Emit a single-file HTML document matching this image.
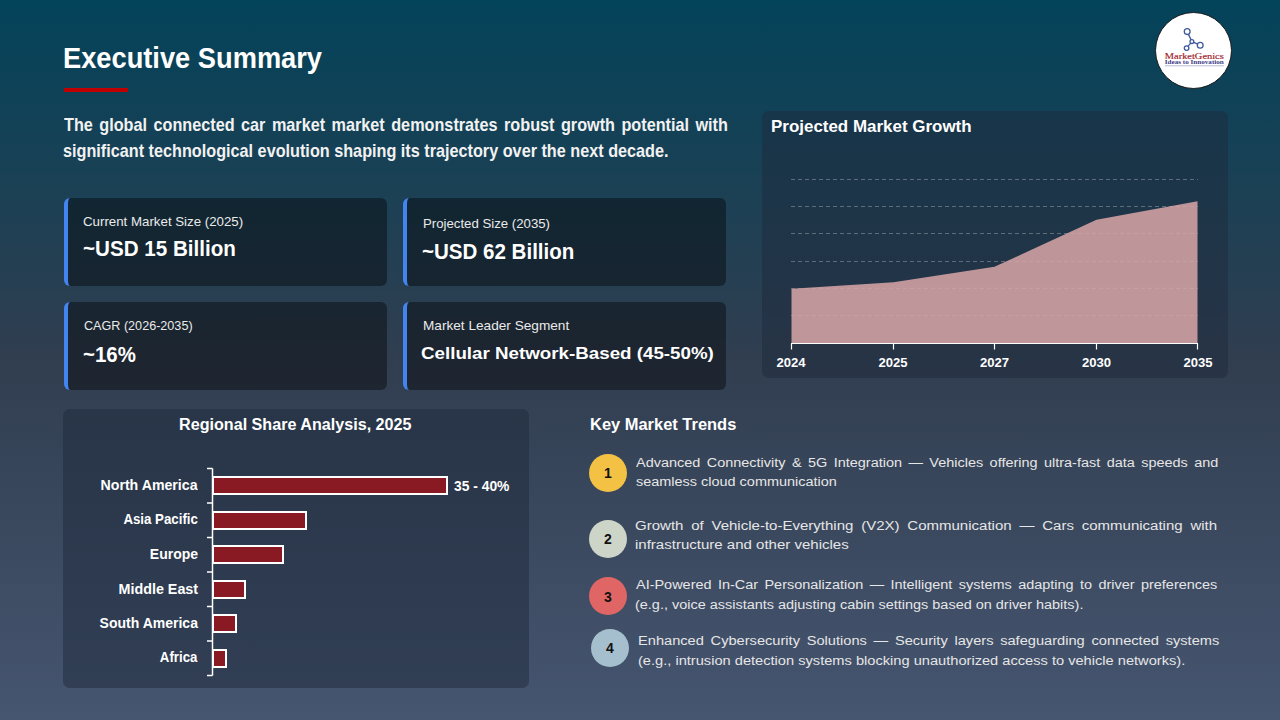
<!DOCTYPE html>
<html><head><meta charset="utf-8"><style>
html,body{margin:0;padding:0;}
body{width:1280px;height:720px;overflow:hidden;position:relative;background:linear-gradient(180deg,#03435a 0%,#313e50 50%,#465570 100%);font-family:'Liberation Sans',sans-serif;}
.t{position:absolute;white-space:nowrap;line-height:1;font-weight:bold;}
.card{position:absolute;width:319px;height:88px;background:rgba(0,0,0,0.4);border-left:4px solid #4285f0;border-radius:6px;}
.panel{position:absolute;background:rgba(30,41,59,0.5);border-radius:7px;}
.circ{position:absolute;width:38px;height:38px;border-radius:50%;}
.num{position:absolute;width:20px;text-align:center;font-size:14px;font-weight:bold;color:#111;line-height:1;}
svg{position:absolute;left:0;top:0;}
</style></head><body>
<div style="position:absolute;left:64px;top:88px;width:64px;height:4px;background:#c00000"></div>
<div class="card" style="left:64px;top:198px"></div>
<div class="card" style="left:403px;top:198px"></div>
<div class="card" style="left:64px;top:302px"></div>
<div class="card" style="left:403px;top:302px"></div>
<div class="panel" style="left:762px;top:111px;width:466px;height:267px"></div>
<div class="panel" style="left:63px;top:409px;width:466px;height:279px"></div>
<svg width="1280" height="720" viewBox="0 0 1280 720">
<g stroke="rgba(255,255,255,0.28)" stroke-width="1" stroke-dasharray="4 3"><line x1="791" x2="1198" y1="315.5" y2="315.5"/><line x1="791" x2="1198" y1="288.5" y2="288.5"/><line x1="791" x2="1198" y1="261.5" y2="261.5"/><line x1="791" x2="1198" y1="233.5" y2="233.5"/><line x1="791" x2="1198" y1="206.5" y2="206.5"/><line x1="791" x2="1198" y1="179.5" y2="179.5"/></g>
<polygon points="791.5,343.5 791.5,288.8 893.5,282.3 994.5,266.8 1096.5,219.8 1197.5,201.2 1197.5,343.5" fill="rgba(216,166,168,0.86)"/>
<line x1="791" x2="1198" y1="343.5" y2="343.5" stroke="#ffffff" stroke-width="1.2"/>
<g stroke="#ffffff" stroke-width="1.2"><line x1="791.5" x2="791.5" y1="343.5" y2="349.5"/><line x1="893.5" x2="893.5" y1="343.5" y2="349.5"/><line x1="994.5" x2="994.5" y1="343.5" y2="349.5"/><line x1="1096.5" x2="1096.5" y1="343.5" y2="349.5"/><line x1="1197.5" x2="1197.5" y1="343.5" y2="349.5"/></g>
<rect x="213" y="477" width="234" height="17" fill="#891a24" stroke="#ffffff" stroke-width="2"/><rect x="213" y="512" width="93" height="17" fill="#891a24" stroke="#ffffff" stroke-width="2"/><rect x="213" y="546" width="70" height="17" fill="#891a24" stroke="#ffffff" stroke-width="2"/><rect x="213" y="581" width="32" height="17" fill="#891a24" stroke="#ffffff" stroke-width="2"/><rect x="213" y="615" width="23" height="17" fill="#891a24" stroke="#ffffff" stroke-width="2"/><rect x="213" y="650" width="13" height="17" fill="#891a24" stroke="#ffffff" stroke-width="2"/>
<line x1="212.5" x2="212.5" y1="468.5" y2="675.5" stroke="#ffffff" stroke-width="1.5"/>
<g stroke="#ffffff" stroke-width="1.5"><line x1="207" x2="212.5" y1="468.50" y2="468.50"/><line x1="207" x2="212.5" y1="503.00" y2="503.00"/><line x1="207" x2="212.5" y1="537.50" y2="537.50"/><line x1="207" x2="212.5" y1="572.00" y2="572.00"/><line x1="207" x2="212.5" y1="606.50" y2="606.50"/><line x1="207" x2="212.5" y1="641.00" y2="641.00"/><line x1="207" x2="212.5" y1="675.50" y2="675.50"/></g>
</svg>
<div class="circ" style="left:589.00px;top:453.50px;background:#f3c143"></div><div class="circ" style="left:589.00px;top:519.50px;background:#ccd5c8"></div><div class="circ" style="left:589.00px;top:577.25px;background:#e06666"></div><div class="circ" style="left:591.00px;top:628.50px;background:#a6bfcf"></div>
<div class="num" style="left:598.00px;top:466.15px">1</div><div class="num" style="left:598.00px;top:532.15px">2</div><div class="num" style="left:598.00px;top:589.90px">3</div><div class="num" style="left:600.00px;top:641.15px">4</div>
<!-- logo -->
<div style="position:absolute;left:1154.5px;top:11.5px;width:77px;height:77px;border-radius:50%;background:#ffffff;border:1px solid #1a1a1a;box-sizing:border-box"></div>
<svg width="1280" height="720" viewBox="0 0 1280 720">
<g stroke="#3d5a9e" stroke-width="1.3" fill="#ffffff">
<line x1="1187.2" y1="31.6" x2="1191.9" y2="41.6"/><line x1="1191.9" y1="41.6" x2="1200.2" y2="45.2"/><line x1="1191.9" y1="41.6" x2="1186.6" y2="48.1"/>
<circle cx="1187.2" cy="31.6" r="2.9"/><circle cx="1191.9" cy="41.6" r="1.9"/><circle cx="1200.2" cy="45.2" r="2.9"/><circle cx="1186.6" cy="48.1" r="2.3"/>
</g>
<text x="1164.8" y="58.5" font-family="Liberation Serif" font-size="7.8" fill="#a0222c" stroke="#a0222c" stroke-width="0.15" textLength="59" lengthAdjust="spacingAndGlyphs">MarketGenics</text>
<text x="1164.8" y="64.4" font-family="Liberation Serif" font-weight="bold" font-size="5.4" fill="#3c3a86" textLength="59" lengthAdjust="spacingAndGlyphs">Ideas to Innovation</text>
<line x1="1164.8" x2="1223.8" y1="65.8" y2="65.8" stroke="#8a8fb8" stroke-width="0.6"/>
</svg>
<div class="t" style="left:62.67px;top:43.00px;font-size:29.80px;color:#ffffff;transform-origin:0 0;transform:scaleX(0.9146);">Executive Summary</div>
<div class="t" style="left:63.50px;top:117.00px;font-size:17.73px;color:#f2f2f2;width:725.44px;text-align:justify;text-align-last:justify;transform-origin:0 0;transform:scaleX(0.9152);">The global connected car market market demonstrates robust growth potential with</div>
<div class="t" style="left:62.58px;top:143.00px;font-size:17.73px;color:#f2f2f2;transform-origin:0 0;transform:scaleX(0.9152);">significant technological evolution shaping its trajectory over the next decade.</div>
<div class="t" style="left:82.66px;top:216.00px;font-size:12.79px;color:#eaeaea;font-weight:normal;transform-origin:0 0;transform:scaleX(1.0392);">Current Market Size (2025)</div>
<div class="t" style="left:82.78px;top:238.00px;font-size:22.38px;color:#ffffff;transform-origin:0 0;transform:scaleX(0.9207);">~USD 15 Billion</div>
<div class="t" style="left:422.67px;top:218.00px;font-size:12.79px;color:#eaeaea;font-weight:normal;transform-origin:0 0;transform:scaleX(1.0331);">Projected Size (2035)</div>
<div class="t" style="left:421.78px;top:241.00px;font-size:22.38px;color:#ffffff;transform-origin:0 0;transform:scaleX(0.9177);">~USD 62 Billion</div>
<div class="t" style="left:83.61px;top:320.00px;font-size:12.79px;color:#eaeaea;font-weight:normal;transform-origin:0 0;transform:scaleX(0.9861);">CAGR (2026-2035)</div>
<div class="t" style="left:83.09px;top:344.00px;font-size:22.38px;color:#ffffff;transform-origin:0 0;transform:scaleX(0.9123);">~16%</div>
<div class="t" style="left:422.68px;top:320.00px;font-size:12.79px;color:#eaeaea;font-weight:normal;transform-origin:0 0;transform:scaleX(1.0662);">Market Leader Segment</div>
<div class="t" style="left:421.40px;top:345.00px;font-size:17.08px;color:#ffffff;width:266.70px;text-align:justify;text-align-last:justify;transform-origin:0 0;transform:scaleX(1.0981);">Cellular Network-Based (45-50%)</div>
<div class="t" style="left:771.19px;top:119.00px;font-size:16.86px;color:#ffffff;transform-origin:0 0;transform:scaleX(1.0051);">Projected Market Growth</div>
<div class="t" style="left:776.50px;top:356.00px;font-size:13.08px;color:#ffffff;transform-origin:50% 0;transform:scaleX(1.0000);">2024</div>
<div class="t" style="left:878.50px;top:356.00px;font-size:13.08px;color:#ffffff;transform-origin:50% 0;transform:scaleX(1.0000);">2025</div>
<div class="t" style="left:980.00px;top:356.00px;font-size:13.08px;color:#ffffff;transform-origin:50% 0;transform:scaleX(1.0000);">2027</div>
<div class="t" style="left:1082.00px;top:356.00px;font-size:13.08px;color:#ffffff;transform-origin:50% 0;transform:scaleX(1.0000);">2030</div>
<div class="t" style="left:1183.50px;top:356.00px;font-size:13.08px;color:#ffffff;transform-origin:50% 0;transform:scaleX(1.0000);">2035</div>
<div class="t" style="left:177.00px;top:416.00px;font-size:16.42px;color:#ffffff;transform-origin:50% 0;transform:scaleX(0.9830);">Regional Share Analysis, 2025</div>
<div class="t" style="left:99.60px;top:478.00px;font-size:14.24px;color:#ffffff;transform-origin:100% 0;transform:scaleX(0.9948);">North America</div>
<div class="t" style="left:117.61px;top:512.00px;font-size:14.24px;color:#ffffff;transform-origin:100% 0;transform:scaleX(0.9325);">Asia Pacific</div>
<div class="t" style="left:148.60px;top:547.00px;font-size:14.24px;color:#ffffff;transform-origin:100% 0;transform:scaleX(0.9833);">Europe</div>
<div class="t" style="left:118.60px;top:582.00px;font-size:14.24px;color:#ffffff;transform-origin:100% 0;transform:scaleX(1.0051);">Middle East</div>
<div class="t" style="left:97.60px;top:616.00px;font-size:14.24px;color:#ffffff;transform-origin:100% 0;transform:scaleX(0.9838);">South America</div>
<div class="t" style="left:156.65px;top:650.00px;font-size:14.24px;color:#ffffff;transform-origin:100% 0;transform:scaleX(0.9293);">Africa</div>
<div class="t" style="left:454.40px;top:479.00px;font-size:14.10px;color:#ffffff;transform-origin:0 0;transform:scaleX(0.9821);">35 - 40%</div>
<div class="t" style="left:589.61px;top:417.00px;font-size:16.57px;color:#ffffff;transform-origin:0 0;transform:scaleX(0.9932);">Key Market Trends</div>
<div class="t" style="left:636.25px;top:456.00px;font-size:13.66px;color:#e6e6e6;font-weight:normal;width:550.36px;text-align:justify;text-align-last:justify;transform-origin:0 0;transform:scaleX(1.0582);">Advanced Connectivity &amp; 5G Integration — Vehicles offering ultra-fast data speeds and</div>
<div class="t" style="left:636.25px;top:475.00px;font-size:13.66px;color:#e6e6e6;font-weight:normal;transform-origin:0 0;transform:scaleX(1.0582);">seamless cloud communication</div>
<div class="t" style="left:635.15px;top:519.00px;font-size:13.66px;color:#e6e6e6;font-weight:normal;width:529.37px;text-align:justify;text-align-last:justify;transform-origin:0 0;transform:scaleX(1.0997);">Growth of Vehicle-to-Everything (V2X) Communication — Cars communicating with</div>
<div class="t" style="left:635.15px;top:538.00px;font-size:13.66px;color:#e6e6e6;font-weight:normal;transform-origin:0 0;transform:scaleX(1.0997);">infrastructure and other vehicles</div>
<div class="t" style="left:636.25px;top:578.00px;font-size:13.66px;color:#e6e6e6;font-weight:normal;width:549.11px;text-align:justify;text-align-last:justify;transform-origin:0 0;transform:scaleX(1.0586);">AI-Powered In-Car Personalization — Intelligent systems adapting to driver preferences</div>
<div class="t" style="left:635.19px;top:598.00px;font-size:13.66px;color:#e6e6e6;font-weight:normal;transform-origin:0 0;transform:scaleX(1.0586);">(e.g., voice assistants adjusting cabin settings based on driver habits).</div>
<div class="t" style="left:637.68px;top:634.00px;font-size:13.66px;color:#e6e6e6;font-weight:normal;width:542.67px;text-align:justify;text-align-last:justify;transform-origin:0 0;transform:scaleX(1.0712);">Enhanced Cybersecurity Solutions — Security layers safeguarding connected systems</div>
<div class="t" style="left:637.68px;top:654.00px;font-size:13.66px;color:#e6e6e6;font-weight:normal;transform-origin:0 0;transform:scaleX(1.0712);">(e.g., intrusion detection systems blocking unauthorized access to vehicle networks).</div>
</body></html>
